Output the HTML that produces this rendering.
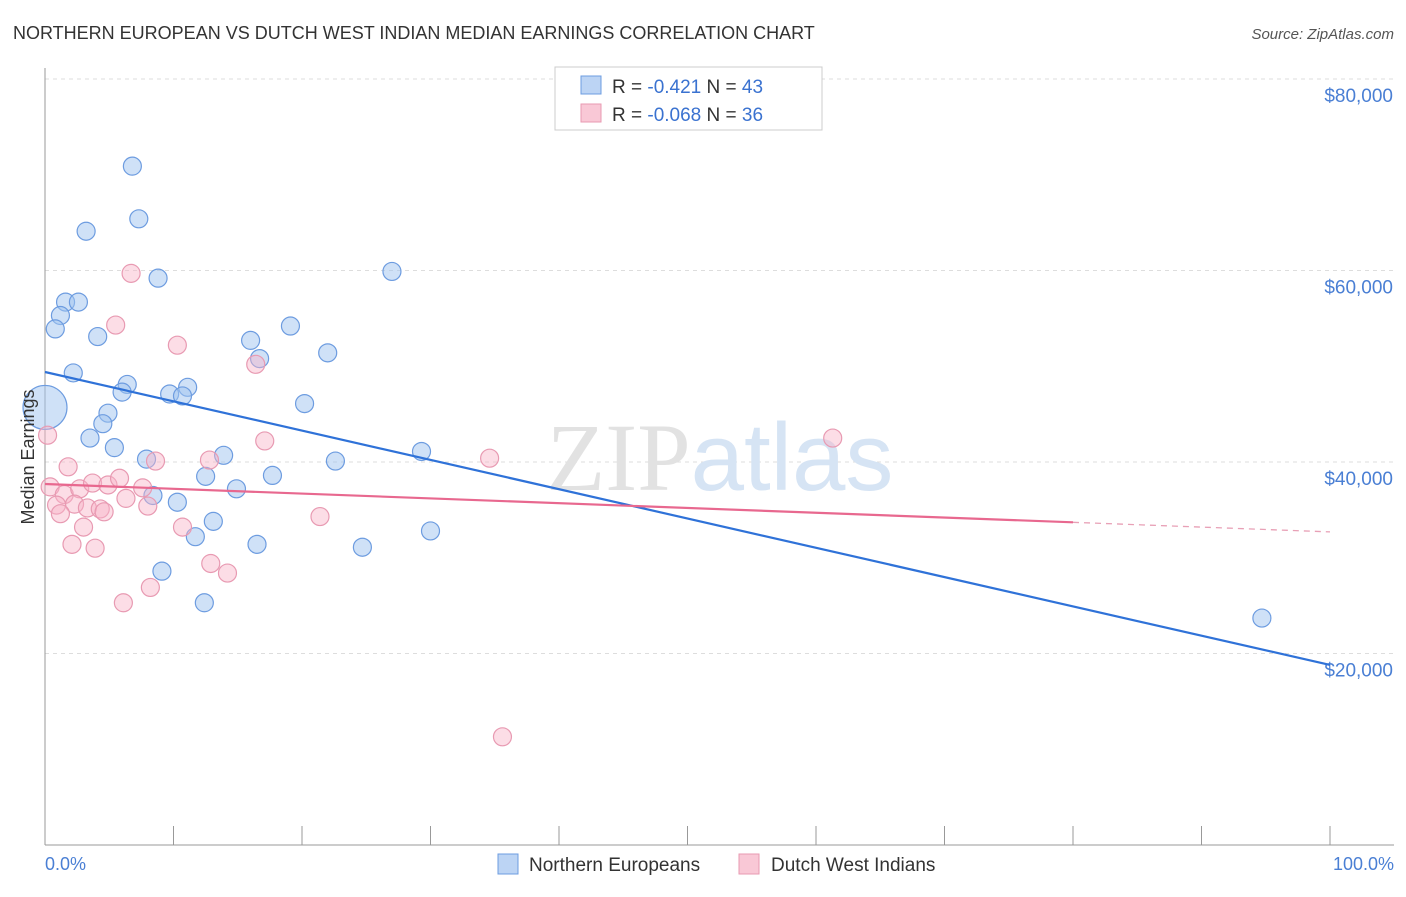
<!DOCTYPE html>
<html><head><meta charset="utf-8"><style>
body{margin:0;background:#fff;font-family:"Liberation Sans",sans-serif}
svg text{font-family:"Liberation Sans",sans-serif}
</style></head><body>
<svg id="chart" width="1406" height="892" xmlns="http://www.w3.org/2000/svg">
<text x="13" y="39" font-size="18" fill="#333">NORTHERN EUROPEAN VS DUTCH WEST INDIAN MEDIAN EARNINGS CORRELATION CHART</text>
<text x="1394" y="39" font-size="15" fill="#555" text-anchor="end" font-style="italic">Source: ZipAtlas.com</text>
<g id="grid"></g>
<text x="720" y="490" font-size="96" text-anchor="middle" fill="#e4e8ee"><tspan font-family="Liberation Serif" fill="#e2e2e2">ZIP</tspan><tspan fill="#d6e4f4">atlas</tspan></text>
<g id="axes"></g>
<g id="marks"></g>
<text transform="translate(34,457) rotate(-90)" font-size="18" fill="#333" text-anchor="middle">Median Earnings</text>
<text x="45" y="870" font-size="18" fill="#4a7fd4">0.0%</text>
<text x="1394" y="870" font-size="18" fill="#4a7fd4" text-anchor="end">100.0%</text>
<g>
<rect x="555" y="67" width="267" height="63" fill="#fff" stroke="#ccc"/>
<rect x="581" y="76" width="20" height="18" fill="#bcd4f4" stroke="#6d9ce0"/>
<rect x="581" y="104" width="20" height="18" fill="#f9c8d6" stroke="#e89ab2"/>
<text x="612" y="93" font-size="19" fill="#333">R = <tspan fill="#3a72d0">-0.421</tspan>   N = <tspan fill="#3a72d0">43</tspan></text>
<text x="612" y="121" font-size="19" fill="#333">R = <tspan fill="#3a72d0">-0.068</tspan>   N = <tspan fill="#3a72d0">36</tspan></text>
</g>
<g>
<rect x="498" y="854" width="20" height="20" fill="#bcd4f4" stroke="#6d9ce0"/>
<text x="529" y="871" font-size="19" fill="#333">Northern Europeans</text>
<rect x="739" y="854" width="20" height="20" fill="#f9c8d6" stroke="#e89ab2"/>
<text x="771" y="871" font-size="19" fill="#333">Dutch West Indians</text>
</g>
</svg>
<script>
const blueX=[6.8,7.3,3.2,8.8,27.0,1.6,2.6,1.2,0.8,4.1,19.1,16.0,16.7,22.0,2.2,6.4,6.0,11.1,9.7,10.7,20.2,4.9,4.5,3.5,5.4,13.9,7.9,29.3,22.6,17.7,12.5,14.9,8.4,10.3,13.1,30.0,11.7,16.5,24.7,9.1,12.4,94.7,0];
const blueY=[70900,65400,64100,59200,59900,56700,56700,55300,53900,53100,54200,52700,50800,51400,49300,48100,47300,47800,47100,46900,46100,45100,44000,42500,41500,40700,40300,41100,40100,38600,38500,37200,36500,35800,33800,32800,32200,31400,31100,28600,25300,23700,45700];
const pinkX=[6.7,5.5,10.3,16.4,0.2,17.1,61.3,34.6,12.8,8.6,1.8,0.4,1.5,2.7,3.7,4.9,5.8,7.6,6.3,2.3,0.9,1.2,3.3,4.3,8.0,4.6,3.0,10.7,21.4,2.1,3.9,12.9,14.2,8.2,6.1,35.6];
const pinkY=[59700,54300,52200,50200,42800,42200,42500,40400,40200,40100,39500,37400,36600,37200,37800,37600,38300,37300,36200,35600,35500,34600,35200,35100,35400,34800,33200,33200,34300,31400,31000,29400,28400,26900,25300,11300];
const blueTrend=[49400,18800];
const pinkTrend=[37700,32700];
const pinkSolidEnd=80;
const yTicks=[20000,40000,60000,80000];
const yTickLabels=["$20,000","$40,000","$60,000","$80,000"];
const xTicks=[0,10,20,30,40,50,60,70,80,90,100];
const NS="http://www.w3.org/2000/svg";
const xs=v=>45+v*12.85, ys=v=>845-v*0.009575;
function mk(p,t,a){const e=document.createElementNS(NS,t);for(const k in a)e.setAttribute(k,a[k]);p.appendChild(e);return e;}
const grid=document.getElementById('grid'),axes=document.getElementById('axes'),marks=document.getElementById('marks');
yTicks.forEach((t,i)=>{
 const l=mk(grid,'line',{x1:45,x2:1394,y1:ys(t),y2:ys(t),stroke:'#ddd','stroke-dasharray':'4,4'});
 
 
 const tx=mk(axes,'text',{x:1393,y:ys(t)+23,'font-size':19,fill:'#4a7fd4','text-anchor':'end'});
 tx.textContent=yTickLabels[i];
 
 
});
const tg=mk(grid,'line',{x1:45,x2:1394,y1:79,y2:79,stroke:'#ddd','stroke-dasharray':'4,4'});


const ya=mk(axes,'line',{x1:45,x2:45,y1:68,y2:845,stroke:'#999'});


const xa=mk(axes,'line',{x1:45,x2:1394,y1:845,y2:845,stroke:'#999'});


xTicks.forEach(t=>{
 const l=mk(axes,'line',{x1:xs(t),x2:xs(t),y1:826,y2:845,stroke:'#999'});
 
 
});
function dots(X,Y,fill,stroke,name){
 X.forEach((x,i)=>{
  const big=(name==='blue-point'&&i===X.length-1);
  const c=mk(marks,'circle',{cx:xs(x),cy:ys(Y[i]),r:big?22:9,fill:fill,stroke:stroke,'stroke-width':1.2});
  
  
 });
}
dots(blueX,blueY,'rgba(160,196,240,0.5)','#6d9ce0','blue-point');
dots(pinkX,pinkY,'rgba(248,180,200,0.45)','#e89ab2','pink-point');
const bl=mk(marks,'line',{x1:xs(0),y1:ys(blueTrend[0]),x2:xs(100),y2:ys(blueTrend[1]),stroke:'#2f72d8','stroke-width':2.2});


const pm=pinkTrend[0]+(pinkTrend[1]-pinkTrend[0])*pinkSolidEnd/100;
const pl=mk(marks,'line',{x1:xs(0),y1:ys(pinkTrend[0]),x2:xs(pinkSolidEnd),y2:ys(pm),stroke:'#e8688f','stroke-width':2.2});


const pd=mk(marks,'line',{x1:xs(pinkSolidEnd),y1:ys(pm),x2:xs(100),y2:ys(pinkTrend[1]),stroke:'#e8a0b6','stroke-width':1.3,'stroke-dasharray':'6,5'});


</script>
</body></html>
